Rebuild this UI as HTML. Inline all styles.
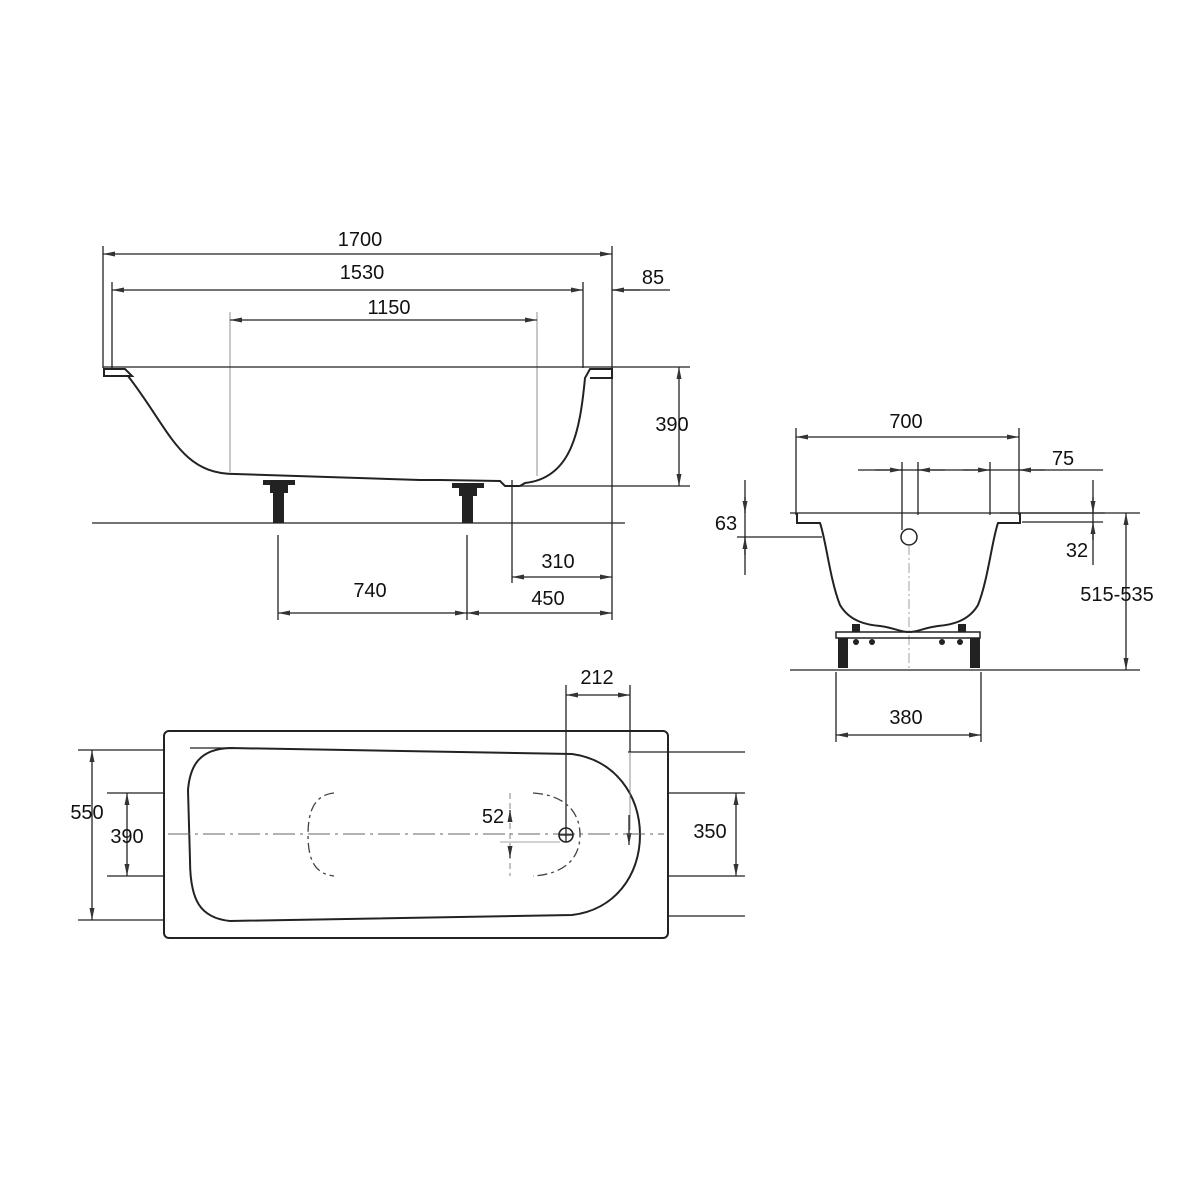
<!DOCTYPE html>
<html><head><meta charset="utf-8"><style>
html,body{margin:0;padding:0;background:#fff}
svg{display:block}
text{font-family:"Liberation Sans",Arial,sans-serif;font-size:20px;fill:#111}
</style></head><body>
<svg width="1200" height="1200" viewBox="0 0 1200 1200" xmlns="http://www.w3.org/2000/svg">
<defs>
<marker id="a" viewBox="0 0 12 6" refX="12" refY="3" markerWidth="12" markerHeight="6" orient="auto-start-reverse" markerUnits="userSpaceOnUse"><path d="M0,0.5 L12,3 L0,5.5 Z" fill="#333"/></marker>
</defs>
<g stroke="#222" stroke-width="1.3" fill="none">
<!-- SIDE VIEW -->
<line x1="103" y1="246" x2="103" y2="368"/>
<line x1="612" y1="246" x2="612" y2="620"/>
<line x1="103" y1="254" x2="612" y2="254" marker-start="url(#a)" marker-end="url(#a)"/>
<line x1="112" y1="282" x2="112" y2="368"/>
<line x1="583" y1="282" x2="583" y2="368"/>
<line x1="112" y1="290" x2="583" y2="290" marker-start="url(#a)" marker-end="url(#a)"/>
<line x1="612" y1="290" x2="670" y2="290"/>
<line x1="640" y1="290" x2="612" y2="290" marker-end="url(#a)"/>
<line x1="230" y1="312" x2="230" y2="472" stroke-width="0.8" stroke="#777"/>
<line x1="537" y1="312" x2="537" y2="476" stroke-width="0.8" stroke="#777"/>
<line x1="230" y1="320" x2="537" y2="320" marker-start="url(#a)" marker-end="url(#a)"/>
<line x1="103" y1="367" x2="690" y2="367"/>
<path d="M104,369 H125 L132,376 H104 Z" stroke-width="2"/>
<path d="M128,376 C170,430 180,474 235,474 L420,480 H440 L500,481 L505,486 H520 L525,483 C572,478 580,430 585,378 L590,369 H612 V378 H590" stroke-width="2"/>
<line x1="512" y1="480" x2="512" y2="583"/>
<line x1="520" y1="486" x2="690" y2="486"/>
<line x1="679" y1="367" x2="679" y2="486" marker-start="url(#a)" marker-end="url(#a)"/>
<line x1="92" y1="523" x2="625" y2="523"/>
<g fill="#222" stroke="none">
<rect x="263" y="480" width="32" height="5"/><rect x="270" y="485" width="18" height="8"/><rect x="273" y="493" width="11" height="30"/>
<rect x="452" y="483" width="32" height="5"/><rect x="459" y="488" width="18" height="8"/><rect x="462" y="496" width="11" height="27"/>
</g>
<line x1="278" y1="535" x2="278" y2="620"/>
<line x1="467" y1="535" x2="467" y2="620"/>
<line x1="512" y1="577" x2="612" y2="577" marker-start="url(#a)" marker-end="url(#a)"/>
<line x1="278" y1="613" x2="467" y2="613" marker-start="url(#a)" marker-end="url(#a)"/>
<line x1="467" y1="613" x2="612" y2="613" marker-start="url(#a)" marker-end="url(#a)"/>

<!-- END VIEW -->
<line x1="796" y1="428" x2="796" y2="515"/>
<line x1="1019" y1="428" x2="1019" y2="515"/>
<line x1="796" y1="437" x2="1019" y2="437" marker-start="url(#a)" marker-end="url(#a)"/>
<line x1="858" y1="470" x2="1103" y2="470"/>
<line x1="902" y1="462" x2="902" y2="530"/>
<line x1="918" y1="462" x2="918" y2="515"/>
<line x1="990" y1="462" x2="990" y2="515"/>
<line x1="875" y1="470" x2="902" y2="470" marker-end="url(#a)"/>
<line x1="945" y1="470" x2="918" y2="470" marker-end="url(#a)"/>
<line x1="963" y1="470" x2="990" y2="470" marker-end="url(#a)"/>
<line x1="1045" y1="470" x2="1019" y2="470" marker-end="url(#a)"/>
<line x1="790" y1="513" x2="1105" y2="513"/>
<line x1="1022" y1="522" x2="1103" y2="522"/>
<line x1="737" y1="537" x2="822" y2="537"/>
<path d="M797,513 V523 H820 C826,540 830,580 840,605 C850,622 868,625 880,626 C895,628 900,632 909,632 C918,632 923,628 938,626 C950,625 968,622 978,605 C988,580 992,540 998,523 H1020 V513" stroke-width="2"/>
<circle cx="909" cy="537" r="8" stroke-width="1.5"/>
<line x1="909" y1="545" x2="909" y2="668" stroke="#888" stroke-dasharray="10,3,2,3" stroke-width="0.8"/>
<rect x="836" y="632" width="144" height="6" stroke-width="1.5"/>
<g fill="#222" stroke="none">
<rect x="838" y="638" width="10" height="30"/><rect x="970" y="638" width="10" height="30"/>
<rect x="852" y="624" width="8" height="8"/><rect x="958" y="624" width="8" height="8"/>
<circle cx="856" cy="642" r="3"/><circle cx="872" cy="642" r="3"/><circle cx="942" cy="642" r="3"/><circle cx="960" cy="642" r="3"/>
</g>
<line x1="790" y1="670" x2="1000" y2="670"/>
<line x1="745" y1="480" x2="745" y2="575"/>
<line x1="745" y1="497" x2="745" y2="513" marker-end="url(#a)"/>
<line x1="745" y1="555" x2="745" y2="537" marker-end="url(#a)"/>
<line x1="1093" y1="480" x2="1093" y2="565"/>
<line x1="1093" y1="497" x2="1093" y2="513" marker-end="url(#a)"/>
<line x1="1093" y1="540" x2="1093" y2="522" marker-end="url(#a)"/>
<line x1="1000" y1="513" x2="1140" y2="513"/>
<line x1="1126" y1="513" x2="1126" y2="670" marker-start="url(#a)" marker-end="url(#a)"/>
<line x1="1000" y1="670" x2="1140" y2="670"/>
<line x1="836" y1="672" x2="836" y2="742"/>
<line x1="981" y1="672" x2="981" y2="742"/>
<line x1="836" y1="735" x2="981" y2="735" marker-start="url(#a)" marker-end="url(#a)"/>

<!-- PLAN VIEW -->
<rect x="164" y="731" width="504" height="207" rx="5" stroke-width="2"/>
<path d="M230,748 L572,754 C615,760 640,795 640,835 C640,875 615,910 572,915 L230,921 C200,918 190,900 190,860 L188,790 C190,765 200,749 230,748 Z" stroke-width="2"/>
<line x1="190" y1="748" x2="230" y2="748"/>
<line x1="78" y1="750" x2="164" y2="750"/>
<line x1="78" y1="920" x2="164" y2="920"/>
<line x1="92" y1="750" x2="92" y2="920" marker-start="url(#a)" marker-end="url(#a)"/>
<line x1="107" y1="793" x2="164" y2="793"/>
<line x1="107" y1="876" x2="164" y2="876"/>
<line x1="127" y1="793" x2="127" y2="876" marker-start="url(#a)" marker-end="url(#a)"/>
<line x1="668" y1="793" x2="745" y2="793"/>
<line x1="668" y1="876" x2="745" y2="876"/>
<line x1="736" y1="793" x2="736" y2="876" marker-start="url(#a)" marker-end="url(#a)"/>
<line x1="628" y1="752" x2="745" y2="752"/>
<line x1="668" y1="916" x2="745" y2="916"/>
<line x1="566" y1="685" x2="566" y2="828"/>
<line x1="630" y1="685" x2="630" y2="752"/>
<line x1="566" y1="695" x2="630" y2="695" marker-start="url(#a)" marker-end="url(#a)"/>
<line x1="630" y1="752" x2="630" y2="830" stroke-width="0.8" stroke="#777"/>
<line x1="629" y1="815" x2="629" y2="845" marker-end="url(#a)"/>
<line x1="168" y1="834" x2="664" y2="834" stroke="#666" stroke-width="1" stroke-dasharray="22,5,3,5"/>
<path d="M334,793 C315,795 308,810 308,835 C308,860 315,874 334,876" stroke="#444" stroke-dasharray="10,4,3,4"/>
<path d="M533,793 C565,795 580,812 580,835 C580,858 565,874 533,876" stroke="#444" stroke-dasharray="10,4,3,4"/>
<line x1="510" y1="793" x2="510" y2="876" stroke="#666" stroke-dasharray="6,4" stroke-width="0.8"/>
<line x1="510" y1="810" x2="510" y2="822" marker-start="url(#a)"/>
<line x1="510" y1="846" x2="510" y2="858" marker-end="url(#a)"/>
<line x1="500" y1="842" x2="560" y2="842" stroke="#888" stroke-width="0.8"/>
<circle cx="566" cy="835" r="7" stroke-width="1.6"/>
<line x1="559" y1="835" x2="573" y2="835"/><line x1="566" y1="828" x2="566" y2="842"/>
</g>
<g text-anchor="middle">
<text x="360" y="246">1700</text>
<text x="362" y="279">1530</text>
<text x="389" y="314">1150</text>
<text x="653" y="284">85</text>
<text x="672" y="431">390</text>
<text x="558" y="568">310</text>
<text x="370" y="597">740</text>
<text x="548" y="605">450</text>
<text x="906" y="428">700</text>
<text x="1063" y="465">75</text>
<text x="726" y="530">63</text>
<text x="1077" y="557">32</text>
<text x="1117" y="601">515-535</text>
<text x="906" y="724">380</text>
<text x="597" y="684">212</text>
<text x="87" y="819">550</text>
<text x="127" y="843">390</text>
<text x="710" y="838">350</text>
<text x="493" y="823">52</text>
</g>
</svg>
</body></html>
